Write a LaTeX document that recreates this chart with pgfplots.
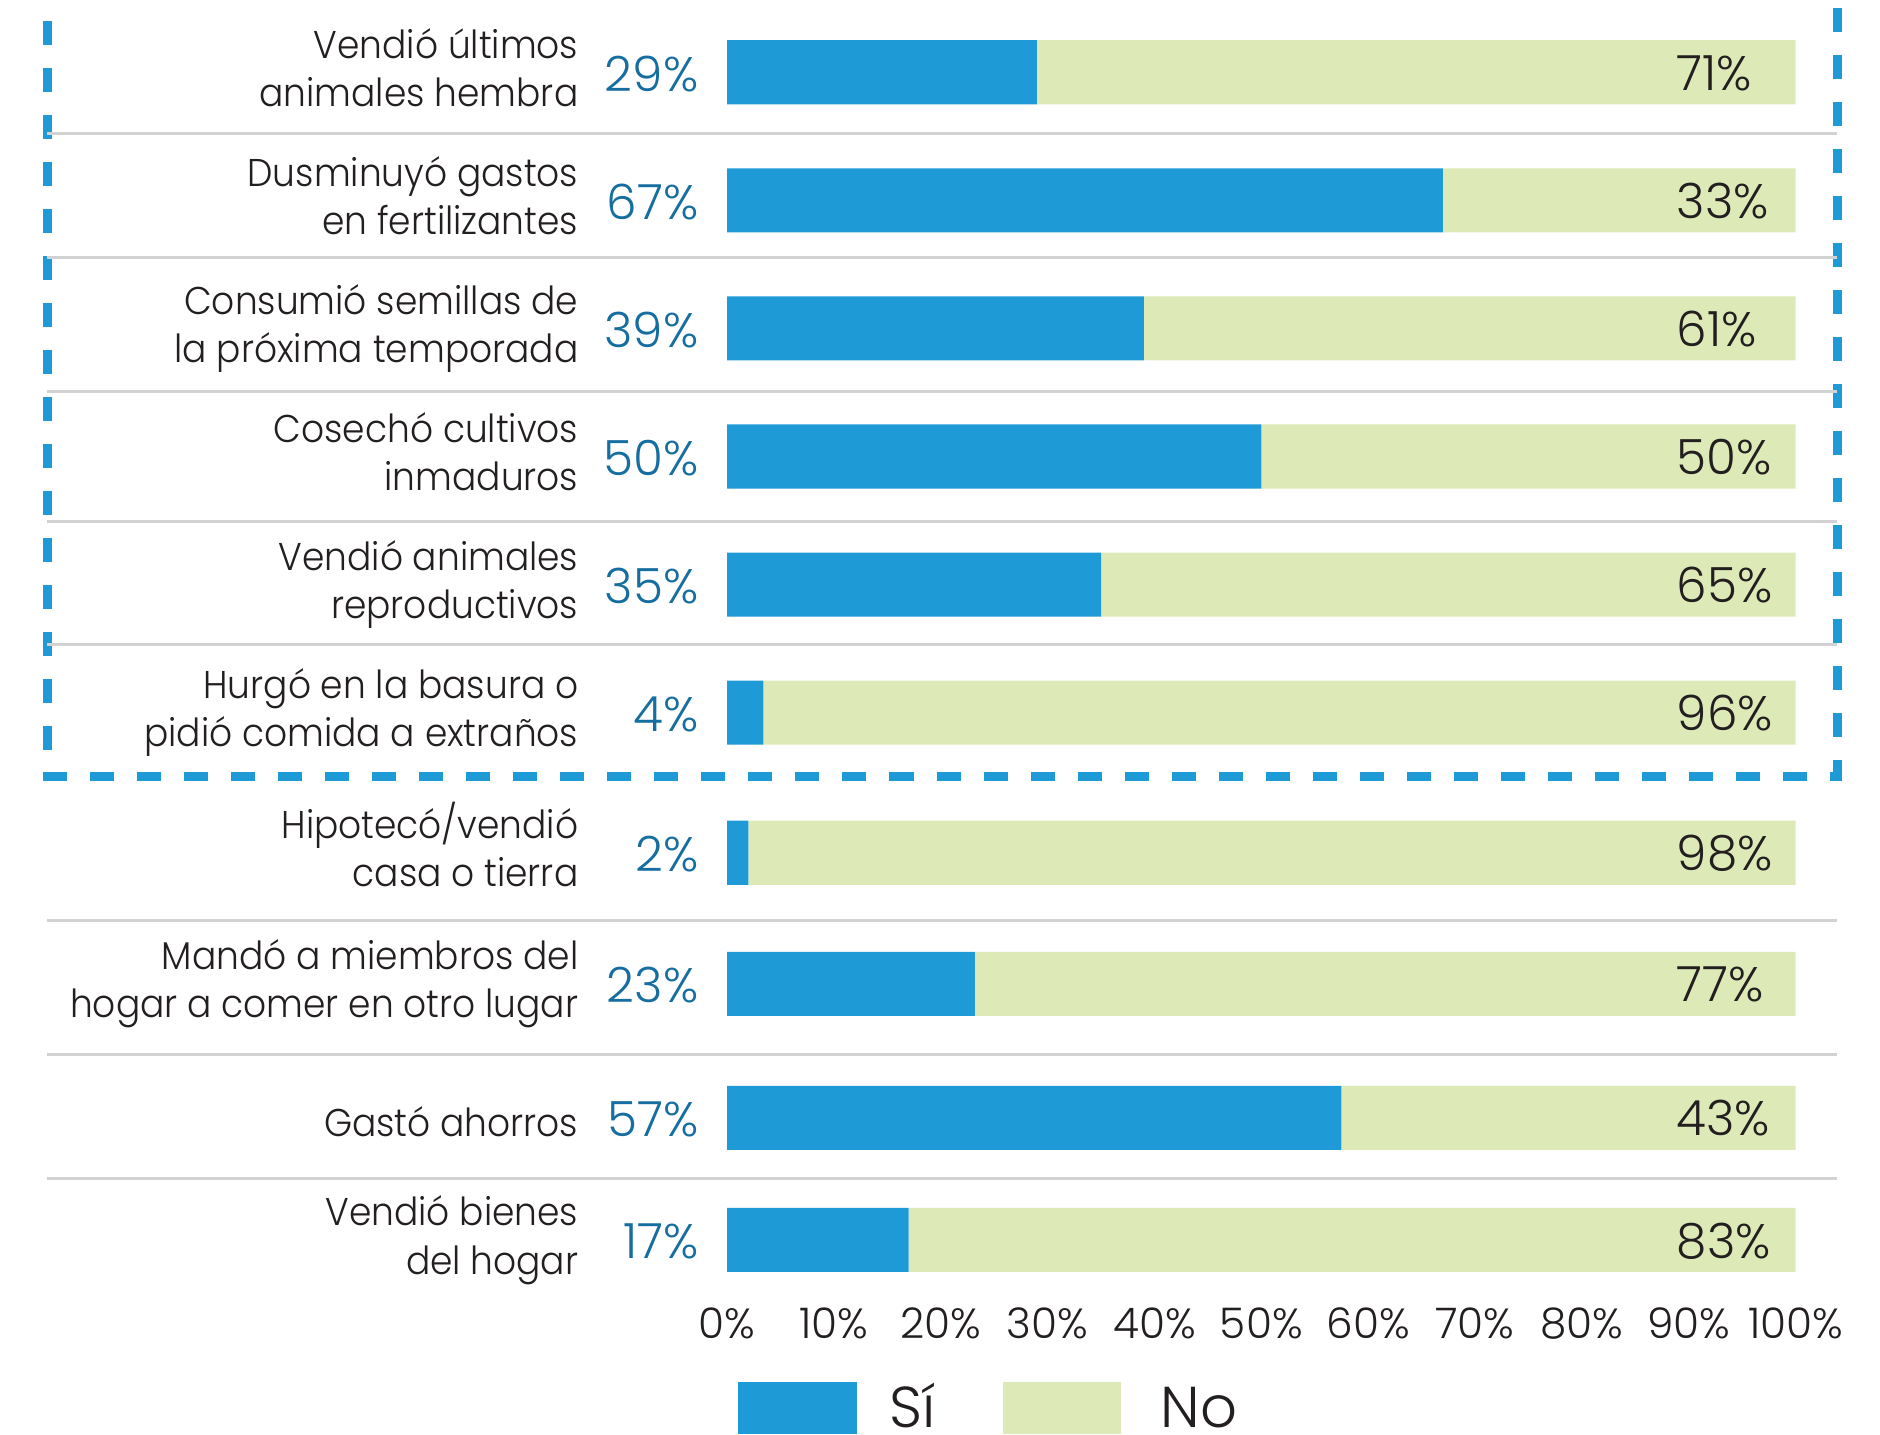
\documentclass[border=0pt]{standalone}
\usepackage{pgfplots}
\pgfplotsset{compat=1.18}
\usepackage{pgfplotstable}
\usepackage{fontspec}
\IfFontExistsTF{Poppins Light}{%
  \setmainfont{Poppins Light}%
  \newfontfamily\narrowf[FakeStretch=0.93]{Poppins Light}%
}{%
  \setmainfont{Poppins}%
  \newfontfamily\narrowf[FakeStretch=0.93]{Poppins}%
}
\definecolor{barblue}{HTML}{1E9AD6}
\definecolor{bargreen}{HTML}{DDEAB8}
\definecolor{valblue}{HTML}{166EA0}
\definecolor{txtcol}{HTML}{231F20}
\definecolor{sepgray}{HTML}{D2D2D2}

\pgfplotstableread{
pos si no
-73 29 71
-201 67 33
-329 39 61
-457 50 50
-585 35 65
-713 3.4 96.6
-853 2 98
-984 23.2 76.8
-1118 57.5 42.5
-1240 17 83
}\bardata

% two-line category label: {bar centre}{line 1}{line 2}
\newcommand\labtwo[3]{%
  \node[lab] at (579,#1-14) {#2};
  \node[lab] at (579,#1+34) {#3};
}
\newcommand\labone[2]{%
  \node[lab] at (579,#1+19) {#2};
}

\begin{document}
\begin{tikzpicture}
\begin{axis}[
  name=ax,
  scale only axis,
  width=10.68cm, height=12.95cm,
  xmin=0, xmax=100, ymin=-1295, ymax=0,
  clip=false,
  axis line style={draw=none},
  ytick=\empty,
  xtick={0,10,...,100},
  xticklabels={0\%,10\%,20\%,30\%,40\%,50\%,60\%,70\%,80\%,90\%,100\%},
  xtick style={draw=none},
  xticklabel style={anchor=base, inner sep=0pt, yshift=-0.43cm, text=txtcol, font=\fontsize{12}{14}\selectfont},
  xbar stacked,
  bar width=64,
]
\addplot[draw=none, fill=barblue] table[x=si, y=pos] {\bardata};
\addplot[draw=none, fill=bargreen] table[x=no, y=pos] {\bardata};
\end{axis}

\begin{scope}[x=0.01cm, y=-0.01cm, shift={(ax.south west)}, shift={(-727,-1295)},
  lab/.style={anchor=base east, inner sep=0pt, text=txtcol, font=\narrowf\fontsize{11}{13.66}\selectfont},
  sival/.style={anchor=base east, inner sep=0pt, text=valblue, font=\fontsize{13.8}{16}\selectfont},
  noval/.style={anchor=base west, inner sep=0pt, text=txtcol, font=\fontsize{13.8}{16}\selectfont}]

% dashed box
\draw[barblue, line width=0.09cm, dash pattern=on 0.24cm off 0.23cm] (47.5,21) -- (47.5,781);
\draw[barblue, line width=0.09cm, dash pattern=on 0.24cm off 0.23cm] (1837,8) -- (1837,781);
\draw[barblue, line width=0.09cm, dash pattern=on 0.24cm off 0.23cm] (43,777) -- (1842,777);

% separators
\foreach \s in {134,258,392,522,645,921,1055,1179}{
  \draw[sepgray, line width=0.03cm] (47,\s) -- (1837,\s);
}

% category labels
\labtwo{73}{Vendió últimos}{animales hembra}
\labtwo{201}{Dusminuyó gastos}{en fertilizantes}
\labtwo{329}{Consumió semillas de}{la próxima temporada}
\labtwo{457}{Cosechó cultivos}{inmaduros}
\labtwo{585}{Vendió animales}{reproductivos}
\labtwo{713}{Hurgó en la basura o}{pidió comida a extraños}
\labtwo{853}{Hipotecó/vendió}{casa o tierra}
\labtwo{984}{Mandó a miembros del}{hogar a comer en otro lugar}
\labone{1118}{Gastó ahorros}
\labtwo{1240}{Vendió bienes}{del hogar}

% Si values
\node[sival] at (699,92) {29\%};
\node[sival] at (699,220) {67\%};
\node[sival] at (699,348) {39\%};
\node[sival] at (699,476) {50\%};
\node[sival] at (699,604) {35\%};
\node[sival] at (699,732) {4\%};
\node[sival] at (699,872) {2\%};
\node[sival] at (699,1003) {23\%};
\node[sival] at (699,1137) {57\%};
\node[sival] at (699,1259) {17\%};

% No values
\node[noval] at (1676,91) {71\%};
\node[noval] at (1676,219) {33\%};
\node[noval] at (1676,347) {61\%};
\node[noval] at (1676,475) {50\%};
\node[noval] at (1676,603) {65\%};
\node[noval] at (1676,731) {96\%};
\node[noval] at (1676,871) {98\%};
\node[noval] at (1676,1002) {77\%};
\node[noval] at (1676,1136) {43\%};
\node[noval] at (1676,1258) {83\%};

% legend
\fill[barblue] (738,1382) rectangle (857,1434);
\node[anchor=base west, inner sep=0pt, text=txtcol, font=\fontsize{16.4}{19}\selectfont] at (889,1427) {Sí};
\fill[bargreen] (1003,1382) rectangle (1121,1434);
\node[anchor=base west, inner sep=0pt, text=txtcol, font=\fontsize{16.4}{19}\selectfont] at (1160,1427) {No};

\pgfresetboundingbox
\path[use as bounding box] (0,0) rectangle (1880,1434);
\end{scope}
\end{tikzpicture}
\end{document}
